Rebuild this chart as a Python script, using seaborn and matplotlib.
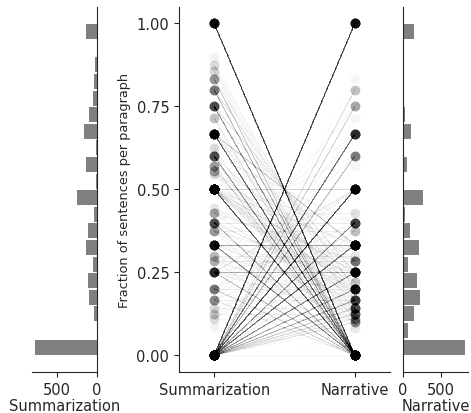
import numpy as np
import pandas as pd
import matplotlib
matplotlib.use("Agg")
import matplotlib.pyplot as plt
import seaborn as sns

# histogram counts per 0.05 bin on [0, 1], lowest bin first
summ_hist_counts = [767, 0, 42, 100, 117, 50, 142, 117, 37, 242,
                    12, 142, 12, 167, 100, 54, 37, 29, 0, 142]
narr_hist_counts = [826, 62, 143, 223, 183, 62, 210, 89, 18, 263,
                    0, 49, 0, 98, 18, 0, 0, 0, 0, 143]

# paired paragraphs: summarization fraction, narrative fraction, how many
pair_summ = [0, 0, 0, 0, 0, 0, 0, 0, 0, 0, 0, 0, 0, 0, 0, 0, 0, 0, 0, 0, 0, 0, 0,
             1, 1/2, 2/3, 1/3, 3/4, 3/5, 2/5, 4/5, 5/6, 1/4, 1/5, 1/6, 4/7, 5/7,
             6/7, 7/8, 9/10, 3/8, 5/8, 2/7, 6/11, 5/9, 1/11,
             1/2, 1/2, 1/2, 1/2, 1/2, 1/2, 1/2, 1/2, 1/2,
             1/3, 1/3, 1/3, 1/3, 1/3,
             2/3, 2/3, 2/3, 2/3, 2/3,
             1/4, 1/4, 1/4, 1/4, 1/4, 1/4,
             3/4, 3/4,
             2/5, 2/5, 2/5, 2/5, 2/5,
             3/5, 3/5,
             1/5, 1/5, 1/5, 1/5,
             1/6, 1/6, 1/6, 1/6,
             4/5, 5/6,
             1/8, 1/7, 1/9, 1/8, 1/7, 1/9, 1/8,
             2/7, 3/10, 2/7, 3/10, 3/10,
             3/8, 3/8, 3/8,
             3/7, 3/7, 4/9, 3/7,
             6/11, 4/7, 4/7, 5/9, 5/9,
             5/8, 5/7, 7/8, 6/7, 1/12]
pair_narr = [1, 1/2, 1/3, 2/3, 1/4, 1/5, 1/6, 1/7, 1/8, 2/5, 3/5, 3/4, 1/9, 1/10,
             2/7, 3/8, 0, 4/5, 3/7, 5/6, 5/7, 4/7, 1/12,
             0, 0, 0, 0, 0, 0, 0, 0, 0, 0, 0, 0, 0, 0,
             0, 0, 0, 0, 0, 0, 0, 0, 0,
             1/2, 1/4, 1/3, 1/6, 1/5, 1/8, 1/10, 1/7, 2/5,
             1/3, 1/6, 1/4, 2/3, 1/5,
             1/3, 1/6, 1/9, 1/4, 1/7,
             1/4, 1/2, 3/4, 1/8, 1/5, 1/3,
             1/4, 1/8,
             1/5, 2/5, 3/5, 1/10, 2/7,
             1/5, 2/5,
             1/5, 2/5, 1/2, 3/5,
             1/6, 1/3, 1/2, 2/3,
             1/5, 1/6,
             1/8, 1/7, 1/9, 3/8, 2/7, 1/3, 1/4,
             2/7, 3/10, 1/7, 1/5, 1/10,
             1/4, 3/8, 1/8,
             2/7, 1/7, 2/9, 3/7,
             2/11, 2/7, 1/7, 2/9, 1/9,
             1/4, 2/7, 1/8, 1/7, 1/12]
pair_count = [140, 130, 100, 100, 70, 50, 45, 30, 25, 60, 40, 25, 15, 20, 10, 8, 5, 20, 3, 3, 3, 3, 5,
              142, 120, 110, 70, 60, 60, 40, 40, 30, 35, 25, 15, 20, 15,
              8, 6, 4, 8, 8, 7, 6, 5, 2,
              22, 20, 15, 15, 15, 10, 10, 8, 7,
              45, 10, 8, 5, 4,
              30, 10, 5, 7, 5,
              40, 15, 5, 8, 6, 8,
              15, 5,
              15, 10, 5, 5, 5,
              12, 8,
              10, 8, 6, 6,
              10, 8, 6, 6,
              14, 7,
              8, 8, 6, 5, 5, 5, 5,
              10, 8, 10, 8, 7,
              10, 8, 11,
              12, 10, 8, 7,
              6, 10, 5, 12, 10,
              4, 5, 6, 5, 2]

group_names = ["Summarization", "Narrative"]

# one row per paragraph and group, so every pair gets its own line
rows = []
pid = 0
for s, n, c in zip(pair_summ, pair_narr, pair_count):
    for _ in range(c):
        rows.append((pid, 0, s))
        rows.append((pid, 1, n))
        pid += 1
long_df = pd.DataFrame(rows, columns=["pair", "pos", "fraction"])

n_bins = len(summ_hist_counts)
centers = (np.arange(n_bins) + 0.5) / n_bins
hist_df = pd.DataFrame({"bin": centers,
                        "summ": summ_hist_counts,
                        "narr": narr_hist_counts})

sns.set_style("ticks")
plt.rcParams["xtick.labelsize"] = 10.5
plt.rcParams["ytick.labelsize"] = 10.5
plt.rcParams["axes.labelsize"] = 10.5

fig = plt.figure(figsize=(4.71, 4.14), dpi=100)
ax_c = fig.add_axes([0.380, 0.099, 0.448, 0.882])
ax_l = fig.add_axes([0.068, 0.099, 0.138, 0.882], sharey=ax_c)
ax_r = fig.add_axes([0.856, 0.099, 0.138, 0.882], sharey=ax_c)

# slope lines + points
sns.lineplot(data=long_df, x="pos", y="fraction", units="pair", estimator=None,
             color="black", alpha=0.007, linewidth=0.7, ax=ax_c)
sns.scatterplot(data=long_df, x="pos", y="fraction", color="black",
                alpha=0.01, s=50, linewidth=0, ax=ax_c)
ax_c.set_xlim(-0.25, 1.25)
ax_c.set_xticks([0, 1])
ax_c.set_xticklabels(group_names)
ax_c.set_yticks([0, 0.25, 0.5, 0.75, 1.0])
ax_c.set_yticklabels(["0.00", "0.25", "0.50", "0.75", "1.00"])
ax_c.set_xlabel("")
ax_c.set_ylabel("Fraction of sentences per paragraph", fontsize=9.3)
sns.despine(ax=ax_c)

# marginal histograms
sns.histplot(data=hist_df, y="bin", weights="summ", bins=n_bins, binrange=(0, 1),
             ax=ax_l, color="#808080", alpha=1, linewidth=0, shrink=0.9)
ax_l.set_xlim(805, 0)
ax_l.set_xticks([500, 0])
ax_l.set_xlabel("Summarization", labelpad=1)
ax_l.set_ylabel("")
ax_l.spines["top"].set_visible(False)
ax_l.spines["left"].set_visible(False)
ax_l.tick_params(axis="y", left=False, right=False, labelleft=False)

sns.histplot(data=hist_df, y="bin", weights="narr", bins=n_bins, binrange=(0, 1),
             ax=ax_r, color="#808080", alpha=1, linewidth=0, shrink=0.9)
ax_r.set_xlim(0, 867)
ax_r.set_xticks([0, 500])
ax_r.set_xlabel("Narrative", labelpad=1)
ax_r.set_ylabel("")
ax_r.spines["top"].set_visible(False)
ax_r.spines["right"].set_visible(False)
ax_r.tick_params(axis="y", left=False, right=False, labelleft=False)

ax_c.set_ylim(-0.05, 1.05)

fig.savefig("out.png", dpi=100)
